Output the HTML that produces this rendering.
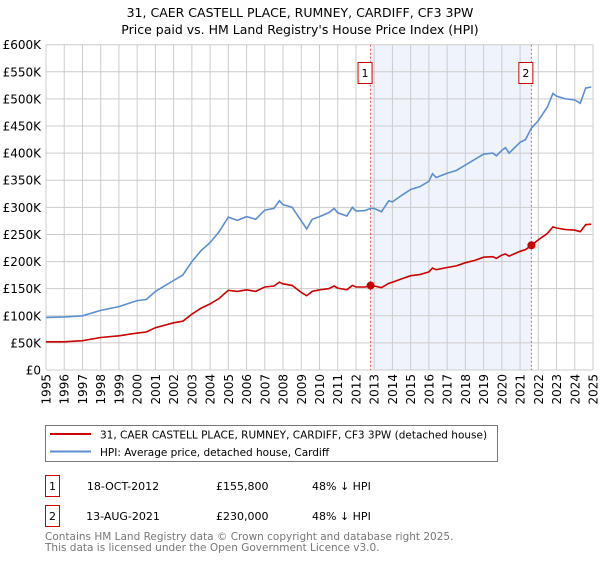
<!DOCTYPE html>
<html><head><meta charset="utf-8"><style>
body{margin:0;background:#fff;font-family:"Liberation Sans","DejaVu Sans",sans-serif;}
svg text{font-family:"DejaVu Sans","Liberation Sans",sans-serif;}
</style></head><body>
<svg id="chart" width="600" height="560" xmlns="http://www.w3.org/2000/svg">
<text x="300" y="17" text-anchor="middle" font-size="12.5">31, CAER CASTELL PLACE, RUMNEY, CARDIFF, CF3 3PW</text>
<text x="300" y="34" text-anchor="middle" font-size="12.5">Price paid vs. HM Land Registry's House Price Index (HPI)</text>
<g id="grid"></g><g id="marks"></g>
<g>
<rect x="45.5" y="425.5" width="452" height="36" fill="#fff" stroke="#777"/>
<line x1="50" y1="434" x2="91" y2="434" stroke="#cc0000" stroke-width="2"/>
<text x="100" y="438.5" font-size="10.5">31, CAER CASTELL PLACE, RUMNEY, CARDIFF, CF3 3PW (detached house)</text>
<line x1="50" y1="451.5" x2="91" y2="451.5" stroke="#5b8fd0" stroke-width="2"/>
<text x="100" y="456" font-size="10.5">HPI: Average price, detached house, Cardiff</text>
</g>
<g font-size="11">
<rect x="45.5" y="475.5" width="14" height="21" fill="#fff" stroke="#cc0000"/>
<text x="52.5" y="490" text-anchor="middle">1</text>
<text x="123" y="490" text-anchor="middle">18-OCT-2012</text>
<text x="216" y="490">£155,800</text>
<text x="312" y="490">48% ↓ HPI</text>
</g>
<g font-size="11">
<rect x="45.5" y="505.5" width="14" height="21" fill="#fff" stroke="#cc0000"/>
<text x="52.5" y="520" text-anchor="middle">2</text>
<text x="123" y="520" text-anchor="middle">13-AUG-2021</text>
<text x="216" y="520">£230,000</text>
<text x="312" y="520">48% ↓ HPI</text>
</g>
<text x="45" y="540" font-size="10.5" fill="#777">Contains HM Land Registry data © Crown copyright and database right 2025.</text>
<text x="45" y="551" font-size="10.5" fill="#777">This data is licensed under the Open Government Licence v3.0.</text>
</svg>
<script>
const hpiYears=[1995,1996,1997,1998,1999,2000,2000.5,2001,2002,2002.5,2003,2003.5,2004,2004.5,2005,2005.5,2006,2006.5,2007,2007.5,2007.8,2008,2008.5,2009,2009.3,2009.6,2010,2010.5,2010.8,2011,2011.5,2011.8,2012,2012.5,2012.8,2013,2013.4,2013.8,2014,2014.5,2015,2015.5,2016,2016.2,2016.4,2017,2017.5,2018,2018.5,2019,2019.5,2019.7,2020,2020.2,2020.4,2021,2021.3,2021.6,2022,2022.5,2022.8,2023,2023.5,2024,2024.3,2024.6,2024.9];
const hpiValues=[97,98,100,110,117,128,130,145,165,175,200,220,235,255,282,276,283,278,295,298,312,305,300,275,260,278,283,290,298,290,284,300,293,294,298,298,292,312,310,322,333,338,348,362,355,363,368,378,388,398,400,395,405,410,400,420,425,445,460,485,510,505,500,498,492,520,522];
const ppYears=[1995,1996,1997,1998,1999,2000,2000.5,2001,2002,2002.5,2003,2003.5,2004,2004.5,2005,2005.5,2006,2006.5,2007,2007.5,2007.8,2008,2008.5,2009,2009.3,2009.6,2010,2010.5,2010.8,2011,2011.5,2011.8,2012,2012.5,2012.8,2013,2013.4,2013.8,2014,2014.5,2015,2015.5,2016,2016.2,2016.4,2017,2017.5,2018,2018.5,2019,2019.5,2019.7,2020,2020.2,2020.4,2021,2021.3,2021.62,2022,2022.5,2022.8,2023,2023.5,2024,2024.3,2024.6,2024.9];
const ppValues=[52,52,54,60,63,68,70,78,87,90,103,114,122,132,147,145,148,145,153,155,162,159,156,143,137,145,148,150,155,151,148,156,153,153,155.8,155,152,160,162,168,174,176,181,188,185,189,192,198,202,208,209,206,212,214,210,219,222,230,240,252,264,262,259,258,255,268,269];
const saleYears=[2012.8,2021.62];
const saleValues=[155.8,230];
const saleLabels=["1","2"];
const yTicks=[0,50,100,150,200,250,300,350,400,450,500,550,600];
const xTicks=[1995,1996,1997,1998,1999,2000,2001,2002,2003,2004,2005,2006,2007,2008,2009,2010,2011,2012,2013,2014,2015,2016,2017,2018,2019,2020,2021,2022,2023,2024,2025];

const NS="http://www.w3.org/2000/svg";
const X0=46,X1=593,Y0=370,Y1=44.7;
const xs=y=>X0+(y-1995)/30*(X1-X0);
const ys=v=>Y0-v/600*(Y0-Y1);
function mk(tag,attrs,parent){const e=document.createElementNS(NS,tag);for(const k in attrs)e.setAttribute(k,attrs[k]);parent.appendChild(e);return e;}
const grid=document.getElementById('grid'),marks=document.getElementById('marks');
const sh=mk('rect',{x:xs(saleYears[0]),y:Y1,width:xs(saleYears[1])-xs(saleYears[0]),height:Y0-Y1,fill:'#eef3fc'},grid);


yTicks.forEach(v=>{
 const l=mk('line',{x1:X0,x2:X1,y1:ys(v),y2:ys(v),stroke:'#cccccc'},grid);
 
 
 const t=mk('text',{x:X0-5,y:ys(v)+4.5,'text-anchor':'end','font-size':'12'},grid);
 
 
 t.textContent=v===0?'£0':'£'+v+'K';
});
xTicks.forEach(yr=>{
 const l=mk('line',{x1:xs(yr),x2:xs(yr),y1:Y1,y2:Y0,stroke:'#cccccc'},grid);
 
 
 const t=mk('text',{x:0,y:0,'text-anchor':'end','font-size':'12',transform:`translate(${xs(yr)+4.5},${Y0+4}) rotate(-90)`},grid);
 
 
 t.textContent=yr;
});
saleYears.forEach((yr,i)=>{
 const l=mk('line',{x1:xs(yr),x2:xs(yr),y1:Y1,y2:Y0,stroke:'#e06060','stroke-dasharray':'2,2'},grid);
 
 
});
function path(xsArr,vsArr,color,name){
 const d=xsArr.map((y,i)=>(i?'L':'M')+xs(y).toFixed(1)+','+ys(vsArr[i]).toFixed(1)).join('');
 const p=mk('path',{d:d,fill:'none',stroke:color,'stroke-width':1.6},marks);
 
 
}
path(hpiYears,hpiValues,'#5b8fd0','hpi-line');
path(ppYears,ppValues,'#cc0000','price-paid-line');
saleYears.forEach((yr,i)=>{
 const c=mk('circle',{cx:xs(yr),cy:ys(saleValues[i]),r:4,fill:'#cc0000'},marks);
 
 
 const r=mk('rect',{x:xs(yr)-12.5,y:62.5,width:14,height:21,fill:'#fff',stroke:'#cc0000'},marks);
 
 
 const t=mk('text',{x:xs(yr)-5.5,y:77,'text-anchor':'middle','font-size':'11'},marks);
 
 
 t.textContent=saleLabels[i];
});
</script>
</body></html>
